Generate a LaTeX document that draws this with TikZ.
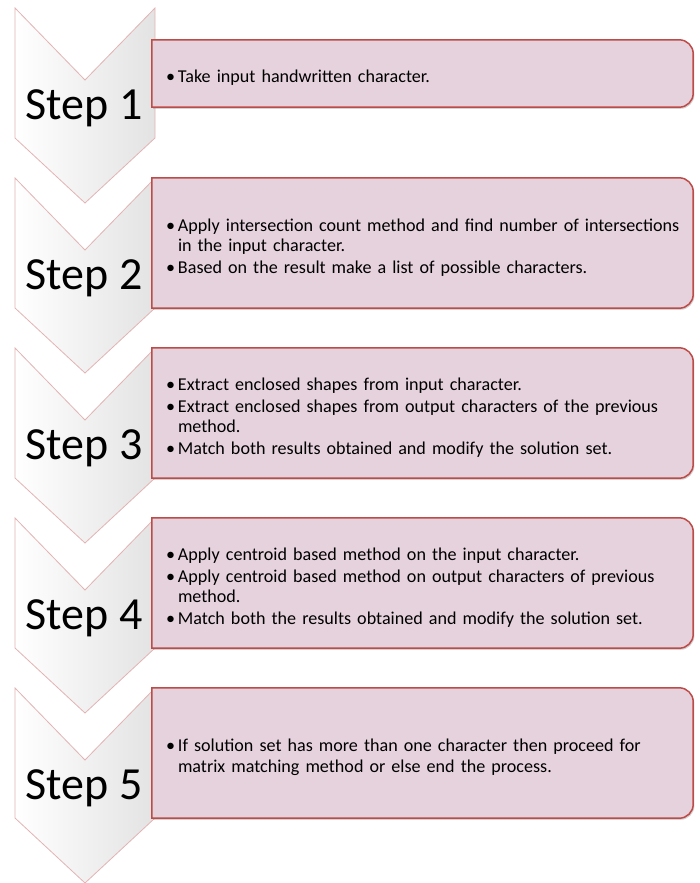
\documentclass[tikz,border=0pt]{standalone}
\usepackage{fontspec}
\setmainfont{Carlito}
\usepackage{tikz}
\usetikzlibrary{shadows,calc}
\definecolor{stepedge}{HTML}{E3B3B3}
\definecolor{boxfill}{HTML}{E6D2DD}
\definecolor{boxedge}{HTML}{BE4B48}
\newcommand{\bitem}[1]{\par\hangindent=12pt\hangafter=1\noindent\makebox[12pt][l]{\textbullet}#1\par}

\tikzset{
  chevron/.style={draw=stepedge,line width=0.8pt,left color=white,middle color=white,right color=black!11},
  steplabel/.style={anchor=base,inner sep=0pt,font=\fontsize{46}{50}\selectfont},
  boxarea/.style={minimum width=541pt,minimum height=130pt,inner sep=0pt},
  stepbox/.style={fill=boxfill,draw=boxedge,line width=1.5pt,
    drop shadow={shadow xshift=1.2pt,shadow yshift=-1.6pt,opacity=0.35}},
  steptext/.style={anchor=west,text width=545pt,inner sep=0pt,
    font=\fontsize{18.1}{20.5}\selectfont,execute at begin node={\raggedright\parskip=1pt}}
}

\begin{document}
\begin{tikzpicture}[x=1pt,y=-1pt]
\useasboundingbox (0,0) rectangle (700,883);

% the five arrows down the left side
\foreach \i/\t in {1/8,2/178,3/348,4/518,5/688}{
  \draw[chevron] (15,\t) -- (85,\t+72) -- (155,\t) -- (155,\t+130)
    -- (85,\t+195) -- (15,\t+130) -- cycle;
  \node[steplabel] (lbl\i) at (84,\t+111) {Step \i};
}

% boxes
\node[boxarea,minimum height=67pt] (box1) at (422.5,73.5) {};
\node[boxarea] (box2) at (422.5,243) {};
\node[boxarea] (box3) at (422.5,413) {};
\node[boxarea] (box4) at (422.5,583) {};
\node[boxarea] (box5) at (422.5,753) {};

\foreach \b in {box1,box2,box3,box4,box5}{
  \draw[stepbox] (\b.north) [rounded corners=14pt] -- (\b.north east) -- (\b.south east)
    -- (\b.south) [sharp corners] -- (\b.south west) -- (\b.north west) -- cycle;
}

\node[steptext] (txt1) at ([xshift=14pt]box1.west) {%
  \bitem{Take input handwritten character.}};
\node[steptext] (txt2) at ([xshift=14pt]box2.west) {%
  \bitem{Apply intersection count method and find number of intersections\newline in the input character.}
  \bitem{Based on the result make a list of possible characters.}};
\node[steptext] (txt3) at ([xshift=14pt]box3.west) {%
  \bitem{Extract enclosed shapes from input character.}
  \bitem{Extract enclosed shapes from output characters of the previous\newline method.}
  \bitem{Match both results obtained and modify the solution set.}};
\node[steptext] (txt4) at ([xshift=14pt]box4.west) {%
  \bitem{Apply centroid based method on the input character.}
  \bitem{Apply centroid based method on output characters of previous\newline method.}
  \bitem{Match both the results obtained and modify the solution set.}};
\node[steptext] (txt5) at ([xshift=14pt]box5.west) {%
  \bitem{If solution set has more than one character then proceed for\newline matrix matching method or else end the process.}};
\end{tikzpicture}
\end{document}
